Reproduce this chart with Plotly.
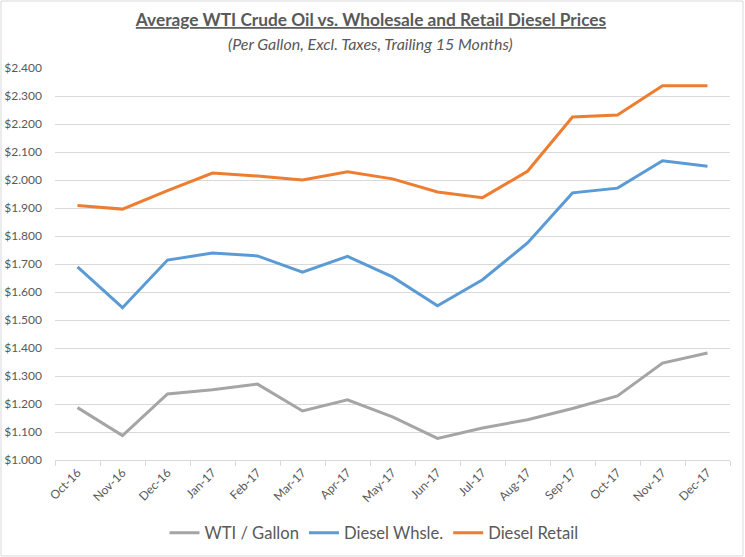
import plotly.graph_objects as go

months = ["Oct-16", "Nov-16", "Dec-16", "Jan-17", "Feb-17", "Mar-17", "Apr-17", "May-17",
          "Jun-17", "Jul-17", "Aug-17", "Sep-17", "Oct-17", "Nov-17", "Dec-17"]
wti_gallon = [1.187, 1.087, 1.236, 1.251, 1.271, 1.175, 1.215, 1.154,
              1.077, 1.114, 1.144, 1.184, 1.229, 1.346, 1.382]
diesel_whsle = [1.690, 1.544, 1.714, 1.739, 1.729, 1.671, 1.727, 1.654,
                1.551, 1.644, 1.775, 1.954, 1.971, 2.069, 2.049]
diesel_retail = [1.909, 1.896, 1.962, 2.025, 2.014, 2.000, 2.029, 2.004,
                 1.957, 1.937, 2.031, 2.225, 2.232, 2.337, 2.337]

W, H = 745, 557
L, R, T, B = 55, 15, 68, 97
pw, ph = W - L - R, H - T - B
FONT = "Lato"
TXT = "#595959"

fig = go.Figure()
for name, vals, col in [("WTI / Gallon", wti_gallon, "#A5A5A5"),
                        ("Diesel Whsle.", diesel_whsle, "#5B9BD5"),
                        ("Diesel Retail", diesel_retail, "#ED7D31")]:
    fig.add_trace(go.Scatter(x=months, y=vals, name=name, mode="lines",
                             line=dict(color=col, width=3)))

def px_x(p):
    return (p - L) / pw

def px_y(p):
    return (H - B - p) / ph

fig.update_layout(
    width=W, height=H, autosize=False,
    margin=dict(l=L, r=R, t=T, b=B, autoexpand=False),
    paper_bgcolor="white", plot_bgcolor="white",
    font=dict(family=FONT, color=TXT),
    title=dict(text="<b>Average WTI Crude Oil vs. Wholesale and Retail Diesel Prices</b>",
               x=371 / W, xref="container", xanchor="center", y=1 - 20 / H, yanchor="middle",
               font=dict(size=17.3, color=TXT, family=FONT, lineposition="under")),
    annotations=[dict(text="<i>(Per Gallon, Excl. Taxes, Trailing 15 Months)</i>",
                      xref="paper", yref="paper", x=px_x(370), y=px_y(44),
                      xanchor="center", yanchor="middle", showarrow=False,
                      font=dict(size=16, color=TXT, family=FONT))],
    xaxis=dict(type="category", showgrid=False, showline=True, linecolor="#D9D9D9",
               linewidth=1, ticks="outside", tickson="boundaries", ticklen=5,
               tickcolor="#D9D9D9", tickangle=-45, tickfont=dict(size=12, color=TXT),
               range=[-0.5, 14.5], fixedrange=True, automargin=False),
    yaxis=dict(range=[1.0, 2.4], dtick=0.1, tick0=1.0, tickprefix="$", tickformat=".3f",
               showgrid=True, gridcolor="#D9D9D9", gridwidth=1, zeroline=False,
               showline=False, ticks="", ticklabelstandoff=12, automargin=False,
               tickfont=dict(size=12, color=TXT)),
    legend=dict(orientation="h", x=px_x(374), xanchor="center", y=px_y(533), yanchor="middle",
                font=dict(size=16.6, color=TXT), itemwidth=30, bgcolor="rgba(0,0,0,0)"),
    shapes=[dict(type="rect", xref="paper", yref="paper",
                 x0=px_x(1), x1=px_x(743), y0=px_y(556), y1=px_y(1),
                 line=dict(color="#D9D9D9", width=1), fillcolor="rgba(0,0,0,0)", layer="below")],
    showlegend=True,
)

fig.write_html("out.html", config={"displayModeBar": False},
               post_script="document.body.style.margin='0';")
